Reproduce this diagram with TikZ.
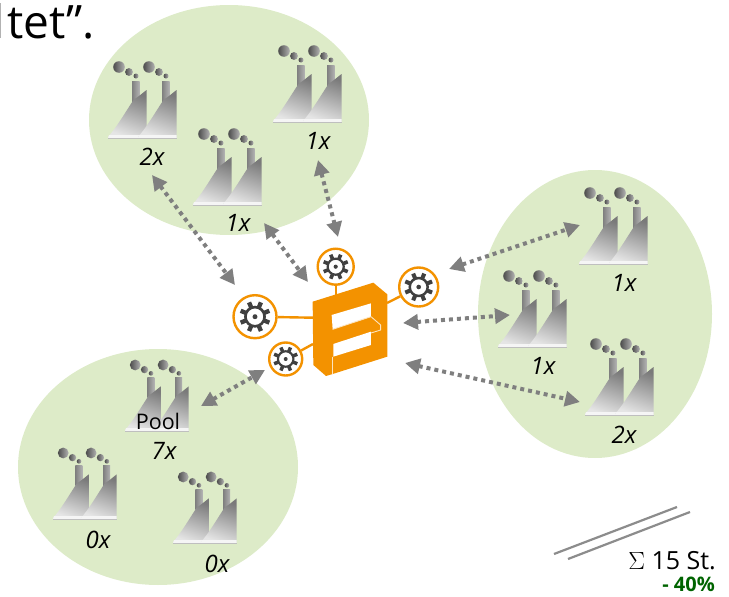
\documentclass[tikz,border=0pt]{standalone}
\usepackage{fontspec}
\setmainfont{Open Sans}
\usetikzlibrary{arrows.meta}
\definecolor{zone}{HTML}{DDEBC8}
\definecolor{brand}{HTML}{F39200}
\definecolor{arrowgray}{HTML}{7F7F7F}
\definecolor{geargray}{HTML}{404040}
\definecolor{greentext}{HTML}{006400}
\tikzset{
  zonefill/.style={fill=zone,draw=none},
  link/.style={{Triangle[length=15pt,width=15pt]}-{Triangle[length=15pt,width=15pt]},arrowgray,line width=4pt,dash pattern=on 4pt off 4pt},
  wire/.style={brand,line width=2.4pt},
  gearnode/.style={circle,draw=brand,fill=white,line width=2.4pt,inner sep=0pt},
  qty/.style={font=\itshape\fontsize{24}{24}\selectfont,inner sep=0pt},
  sumline/.style={draw=black!45,line width=2.2pt},
  factory/.pic={
    \foreach \dx in {0,30}{
      \begin{scope}[xshift=\dx pt]
        \shade[left color=black!70,right color=black!30] (11,-71) circle[radius=5.8];
        \shade[left color=black!70,right color=black!30] (21,-66) circle[radius=3.9];
        \shade[left color=black!70,right color=black!30] (28,-62) circle[radius=2.5];
        \shade[left color=black!50,right color=black!30] (24,-36) rectangle (31.5,-57);
        \shade[shading=axis,bottom color=black!10,top color=black!52,shading angle=-20]
          (0,-1) .. controls (9,-11) and (18,-27) .. (25.5,-38) -- (31,-42) -- (38.5,-48) -- (38.5,-1) -- cycle;
        \fill[black!4] (1,-3) -- (38.5,-3) -- (38.5,0) -- (0,0) -- cycle;
      \end{scope}
    }
    \draw[black!25,line width=1.4pt] (0,.6) -- (68.5,.6);
  },
  gearglyph/.pic={
    \draw[geargray,line width=.17*\gearsize pt] (0,0) circle[radius=.62*\gearsize];
    \foreach \a in {0,45,...,315}{
      \fill[geargray,rotate=\a+22.5] (-.14*\gearsize,.62*\gearsize) rectangle (.14*\gearsize,1.0*\gearsize);
    }
    \fill[geargray] (0,0) circle[radius=.16*\gearsize];
  }
}
\begin{document}
\begin{tikzpicture}[x=1pt,y=-1pt]
\useasboundingbox (0,0) rectangle (729,597);
% zones
\fill[zonefill] (229,120) ellipse[x radius=140,y radius=115];
\fill[zonefill] (595,314) ellipse[x radius=117,y radius=144];
\fill[zonefill] (158,467) ellipse[x radius=140,y radius=118];
% heading fragment
\fill[gray!60] (0,3) rectangle (1,38);
\node[anchor=base west,inner sep=0pt,font=\fontsize{46}{46}\selectfont] (head) at (7,38) {tet”.};
% factories
\pic (fa) at (108,138) {factory};
\pic (fb) at (273,122) {factory};
\pic (fc) at (193,205) {factory};
\pic (fd) at (579,264) {factory};
\pic (fe) at (498,347) {factory};
\pic (ff) at (585,415) {factory};
\pic[scale=.93] (fg) at (125,431) {factory};
\pic[scale=.93] (fh) at (53,519) {factory};
\pic[scale=.93] (fi) at (173,543) {factory};
% labels
\node[qty] (la) at (152,157) {2x};
\node[qty] (lb) at (318,141) {1x};
\node[qty] (lc) at (238,223) {1x};
\node[qty] (ld) at (624,283) {1x};
\node[qty] (le) at (543,366) {1x};
\node[qty] (lf) at (624,435) {2x};
\node[qty] (lg) at (164,451) {7x};
\node[qty] (lh) at (98,540) {0x};
\node[qty] (li) at (217,564) {0x};
\node[inner sep=0pt,font=\fontsize{21.5}{21.5}\selectfont] (pool) at (158,421) {Pool};
% arrow ends
\coordinate (a1) at (152,175); \coordinate (b1) at (235,285);
\coordinate (a2) at (264,223); \coordinate (b2) at (308,282);
\coordinate (a3) at (318,160); \coordinate (b3) at (338,237);
\coordinate (a4) at (449,269); \coordinate (b4) at (580,225);
\coordinate (a5) at (403,323); \coordinate (b5) at (510,315);
\coordinate (a6) at (405,363); \coordinate (b6) at (580,402);
\coordinate (a7) at (201,406); \coordinate (b7) at (265,370);
\foreach \n in {1,...,7}{\draw[link] (a\n) -- (b\n);}
% gears
\node[gearnode,minimum size=36pt] (g1) at (335.7,266.7) {};
\node[gearnode,minimum size=39pt] (g2) at (418.7,287) {};
\node[gearnode,minimum size=43pt] (g3) at (255,316.7) {};
\node[gearnode,minimum size=33pt] (g4) at (285.7,359) {};
% logo anchors
\coordinate (w1) at (335.7,295);
\coordinate (w2) at (387,303);
\coordinate (w3) at (313,317.7);
\coordinate (w4) at (313,344);
\draw[wire] (g1) -- (w1);
\draw[wire] (g2) -- (w2);
\draw[wire] (g3) -- (w3);
\draw[wire] (g4) -- (w4);
\def\gearsize{13}\pic at (g1) {gearglyph};
\def\gearsize{14.5}\pic at (g2) {gearglyph};
\def\gearsize{15.5}\pic at (g3) {gearglyph};
\def\gearsize{12.5}\pic at (g4) {gearglyph};
% logo
\begin{scope}[shift={(220,240)},x=.3333pt,y=-.3333pt]
  \fill[brand] (278,185) -- (460,128) -- (502,163) -- (502,350) -- (335,403) -- (318,408) -- (280,375) -- cycle;
  \fill[white] (335,225) -- (453,190) -- (453,230) -- (338,268) -- cycle;
  \fill[white] (340,312) -- (453,275) -- (453,315) -- (340,350) -- cycle;
  \draw[white!75!brand,line width=.9pt,line join=round] (338,268) -- (453,230) -- (482,255) -- (482,270) -- (453,279);
  \draw[white!75!brand,line width=.9pt] (337,350) -- (337,403);
\end{scope}
% sum
\coordinate (s1) at (554,554); \coordinate (s2) at (677,507);
\coordinate (s3) at (568,559); \coordinate (s4) at (690,512);
\draw[sumline] (s1) -- (s2);
\draw[sumline] (s3) -- (s4);
\node[anchor=base east,inner sep=0pt,font=\fontsize{25}{25}\selectfont] (sum) at (716,569) {$\Sigma$ 15 St.};
\node[anchor=base east,inner sep=0pt,text=greentext,font=\bfseries\fontsize{20}{20}\selectfont] (pct) at (715,591.5) {- 40\%};
\end{tikzpicture}
\end{document}
